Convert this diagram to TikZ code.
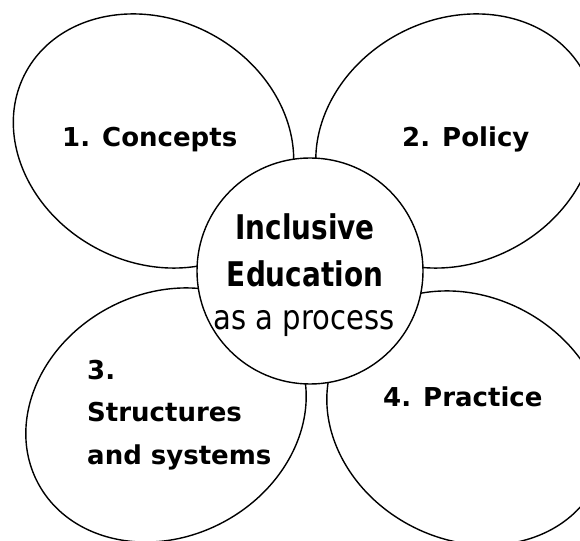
\documentclass[tikz,border=0pt]{standalone}
\usepackage{fontspec}
\usepackage{graphicx}
\setmainfont{DejaVu Sans}
\usetikzlibrary{shapes.geometric}
\tikzset{
  petal/.style={ellipse, draw=black, line width=1.4pt, fill=white, inner sep=0pt,
    minimum width=290pt, minimum height=243pt},
  hubshape/.style={circle, draw=black, line width=1.4pt, fill=white, inner sep=0pt,
    minimum size=226pt},
  lab/.style={font=\fontsize{26}{32}\selectfont\bfseries, inner sep=0pt, anchor=base west},
  hubbold/.style={font=\fontsize{34}{40}\selectfont\bfseries, inner sep=0pt, anchor=base},
  hubreg/.style={font=\fontsize{34}{40}\selectfont, inner sep=0pt, anchor=base}
}
\begin{document}
\begin{tikzpicture}[x=1pt,y=1pt]
\useasboundingbox (0,0) rectangle (580,540);
\fill[white] (0,0) rectangle (580,540);
\clip (0,0) rectangle (580,540);
% petals
\node[petal, rotate=-28] (p1) at (153.5,399) {};
\node[petal, rotate=28]  (p2) at (456,399) {};
\node[petal, rotate=28]  (p3) at (166,125) {};
\node[petal, rotate=-28] (p4) at (467,122) {};
% hub
\node[hubshape] (hub) at (310,269) {};
% petal labels
\node[lab] (l1) at (62,393) {1. Concepts};
\node[lab] (l2) at (402,393) {2. Policy};
\node[lab] (l3a) at (87,160) {3.};
\node[lab] (l3b) at (87,118) {Structures};
\node[lab] (l3c) at (87,75) {and systems};
\node[lab] (l4) at (383,133) {4. Practice};
% hub labels
\node[hubbold] (h1) at (305,300) {\scalebox{0.82}[1]{Inclusive}};
\node[hubbold] (h2) at (305,253) {\scalebox{0.82}[1]{Education}};
\node[hubreg] (h3) at (304,210) {\scalebox{0.855}[1]{as a process}};
\end{tikzpicture}
\end{document}
